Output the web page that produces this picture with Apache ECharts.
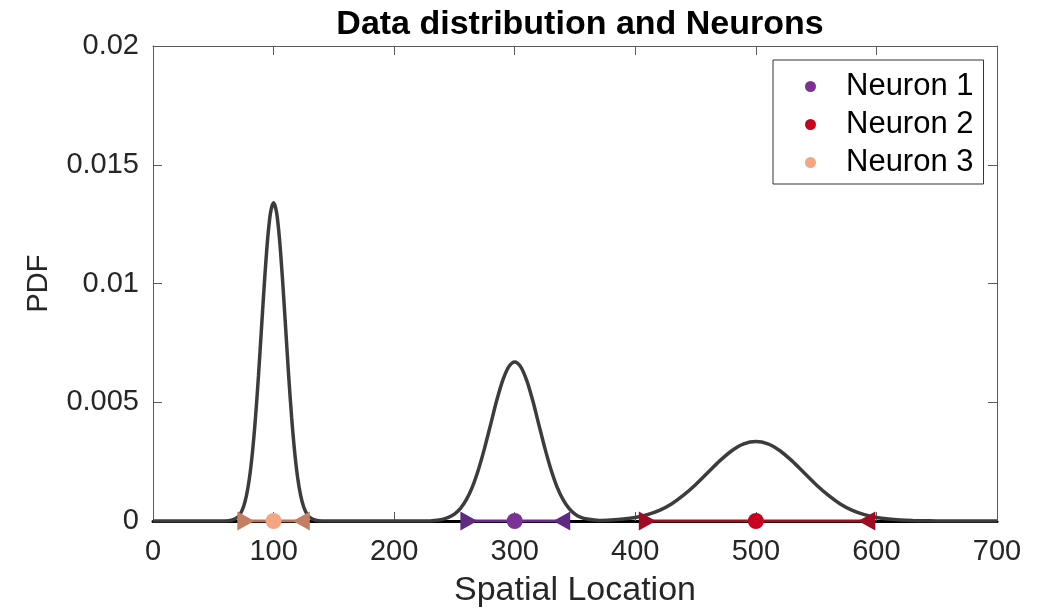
<!DOCTYPE html>
<html>
<head>
<meta charset="utf-8">
<script src="https://cdn.jsdelivr.net/npm/echarts@6/dist/echarts.min.js"></script>
<style>
  html, body { margin: 0; padding: 0; background: #fff; }
  #chart { width: 1042px; height: 611px; }
</style>
</head>
<body>
<div id="chart"></div>
<script>
// PDF curve
var pdfX = [0, 50, 60, 65, 70, 72.5, 75, 77.5, 80, 82.5, 85, 87.5, 90, 92.5, 95, 97.5, 100,
    102.5, 105, 107.5, 110, 112.5, 115, 117.5, 120, 122.5, 125, 127.5, 130, 135, 140, 150,
    200, 230, 235, 240, 245, 250, 255, 260, 265, 270, 275, 280, 285, 290, 295, 300,
    305, 310, 315, 320, 325, 330, 335, 340, 345, 350, 355, 360, 370, 380, 390, 400,
    410, 420, 430, 440, 450, 460, 470, 480, 490, 500,
    510, 520, 530, 540, 550, 560, 570, 580, 590, 600, 610, 620, 630, 640, 650, 700];
var pdfY = [0, 0, 0.00000, 0.00003, 0.00015, 0.00031, 0.00059, 0.00107, 0.00181, 0.0029, 0.00435, 0.00613, 0.00813, 0.01011, 0.01183, 0.01299, 0.0134,
    0.01299, 0.01183, 0.01011, 0.00813, 0.00613, 0.00435, 0.0029, 0.00181, 0.00107, 0.00059, 0.00031, 0.00015, 0.00003, 0.00000, 0,
    0, 0, 0.00003, 0.00007, 0.00015, 0.00029, 0.00053, 0.00091, 0.00145, 0.00218, 0.00307, 0.00406, 0.00506, 0.00591, 0.00649, 0.0067,
    0.00649, 0.00591, 0.00506, 0.00406, 0.00307, 0.00218, 0.00145, 0.00091, 0.00053, 0.00029, 0.00015, 0.00008, 0.00002, 0.00004, 0.00008, 0.00015,
    0.00027, 0.00045, 0.00072, 0.00109, 0.00153, 0.00203, 0.00253, 0.00296, 0.00325, 0.00335,
    0.00325, 0.00296, 0.00253, 0.00203, 0.00153, 0.00109, 0.00072, 0.00045, 0.00027, 0.00015, 0.00008, 0.00004, 0.00002, 0.00001, 0, 0];

// neurons: centre and the two edges of each range
var neuronNames = ['Neuron 1', 'Neuron 2', 'Neuron 3'];
var neuronCenter = [300, 500, 100];
var neuronLeft = [262, 410, 77];
var neuronRight = [339, 592, 123];
var neuronColor = ['#7B3294', '#CA0020', '#F4A582'];
var neuronDark = ['#5E2A82', '#A00A22', '#C47F62'];
var neuronLine = ['#6A2D8C', '#A50F22', '#B8755A'];

var xTicks = [0, 700, 100];
var yTicks = [0, 0.02, 0.005];

var myChart = echarts.init(document.getElementById('chart'));

var axisCol = '#262626';
var boxCol = '#5a5a5a';

var curve = [];
for (var i = 0; i < pdfX.length; i++) {
    curve.push([pdfX[i], pdfY[i]]);
}

var series = [{
    name: 'pdf',
    type: 'line',
    data: curve,
    smooth: 0.3,
    showSymbol: false,
    lineStyle: { color: '#3c3c3c', width: 3.5 },
    z: 2
}];

for (var k = 0; k < neuronNames.length; k++) {
    series.push({
        name: neuronNames[k],
        type: 'line',
        showAllSymbol: true,
        itemStyle: { color: neuronColor[k] },
        lineStyle: { color: neuronLine[k], width: 3 },
        z: 5,
        data: [
            { value: [neuronLeft[k], 0], symbol: 'triangle', symbolRotate: -90, symbolSize: [19, 17], itemStyle: { color: neuronDark[k] } },
            { value: [neuronCenter[k], 0], symbol: 'circle', symbolSize: 16 },
            { value: [neuronRight[k], 0], symbol: 'triangle', symbolRotate: 90, symbolSize: [19, 17], itemStyle: { color: neuronDark[k] } }
        ]
    });
}

var option = {
    animation: false,
    backgroundColor: '#fff',
    title: {
        text: 'Data distribution and Neurons',
        left: 575,
        top: 3,
        textAlign: 'center',
        textStyle: { fontFamily: 'Liberation Sans', fontSize: 34, fontWeight: 'bold', color: '#000' }
    },
    legend: {
        orient: 'vertical',
        left: 773,
        top: 60,
        padding: [11, 10, 6, 32],
        itemGap: 7,
        itemWidth: 11,
        itemHeight: 11,
        borderColor: '#333',
        borderWidth: 1,
        backgroundColor: '#fff',
        textStyle: { fontFamily: 'Liberation Sans', fontSize: 31, color: '#000', padding: [0, 0, 0, 25] },
        data: neuronNames.map(function (n) { return { name: n, icon: 'circle' }; })
    },
    grid: { left: 153, right: 45, top: 46, bottom: 90, outerBoundsMode: 'none', containLabel: false },
    xAxis: [{
        type: 'value',
        min: xTicks[0], max: xTicks[1], interval: xTicks[2],
        name: 'Spatial Location',
        nameLocation: 'middle',
        nameGap: 53,
        nameTextStyle: { fontFamily: 'Liberation Sans', fontSize: 34, color: axisCol },
        axisLine: { show: true, onZero: false, lineStyle: { color: '#000', width: 3 } },
        axisTick: { show: true, inside: true, length: 9, lineStyle: { color: boxCol } },
        axisLabel: { fontFamily: 'Liberation Sans', fontSize: 29, color: axisCol, margin: 16 },
        splitLine: { show: false }
    }, {
        type: 'value', position: 'top',
        min: xTicks[0], max: xTicks[1], interval: xTicks[2],
        axisLine: { show: true, onZero: false, lineStyle: { color: boxCol, width: 1 } },
        axisTick: { show: true, inside: true, length: 9, lineStyle: { color: boxCol } },
        axisLabel: { show: false },
        splitLine: { show: false }
    }],
    yAxis: [{
        type: 'value',
        min: yTicks[0], max: yTicks[1], interval: yTicks[2],
        name: 'PDF',
        nameLocation: 'middle',
        nameGap: 100,
        nameTextStyle: { fontFamily: 'Liberation Sans', fontSize: 29, color: axisCol },
        axisLine: { show: true, onZero: false, lineStyle: { color: boxCol, width: 1 } },
        axisTick: { show: true, inside: true, length: 9, lineStyle: { color: boxCol } },
        axisLabel: { fontFamily: 'Liberation Sans', fontSize: 29, color: axisCol, margin: 14,
            formatter: function (v) { return String(+v.toFixed(3)); } },
        splitLine: { show: false }
    }, {
        type: 'value', position: 'right',
        min: yTicks[0], max: yTicks[1], interval: yTicks[2],
        axisLine: { show: true, onZero: false, lineStyle: { color: boxCol, width: 1 } },
        axisTick: { show: true, inside: true, length: 9, lineStyle: { color: boxCol } },
        axisLabel: { show: false },
        splitLine: { show: false }
    }],
    series: series
};

myChart.setOption(option);
</script>
</body>
</html>
